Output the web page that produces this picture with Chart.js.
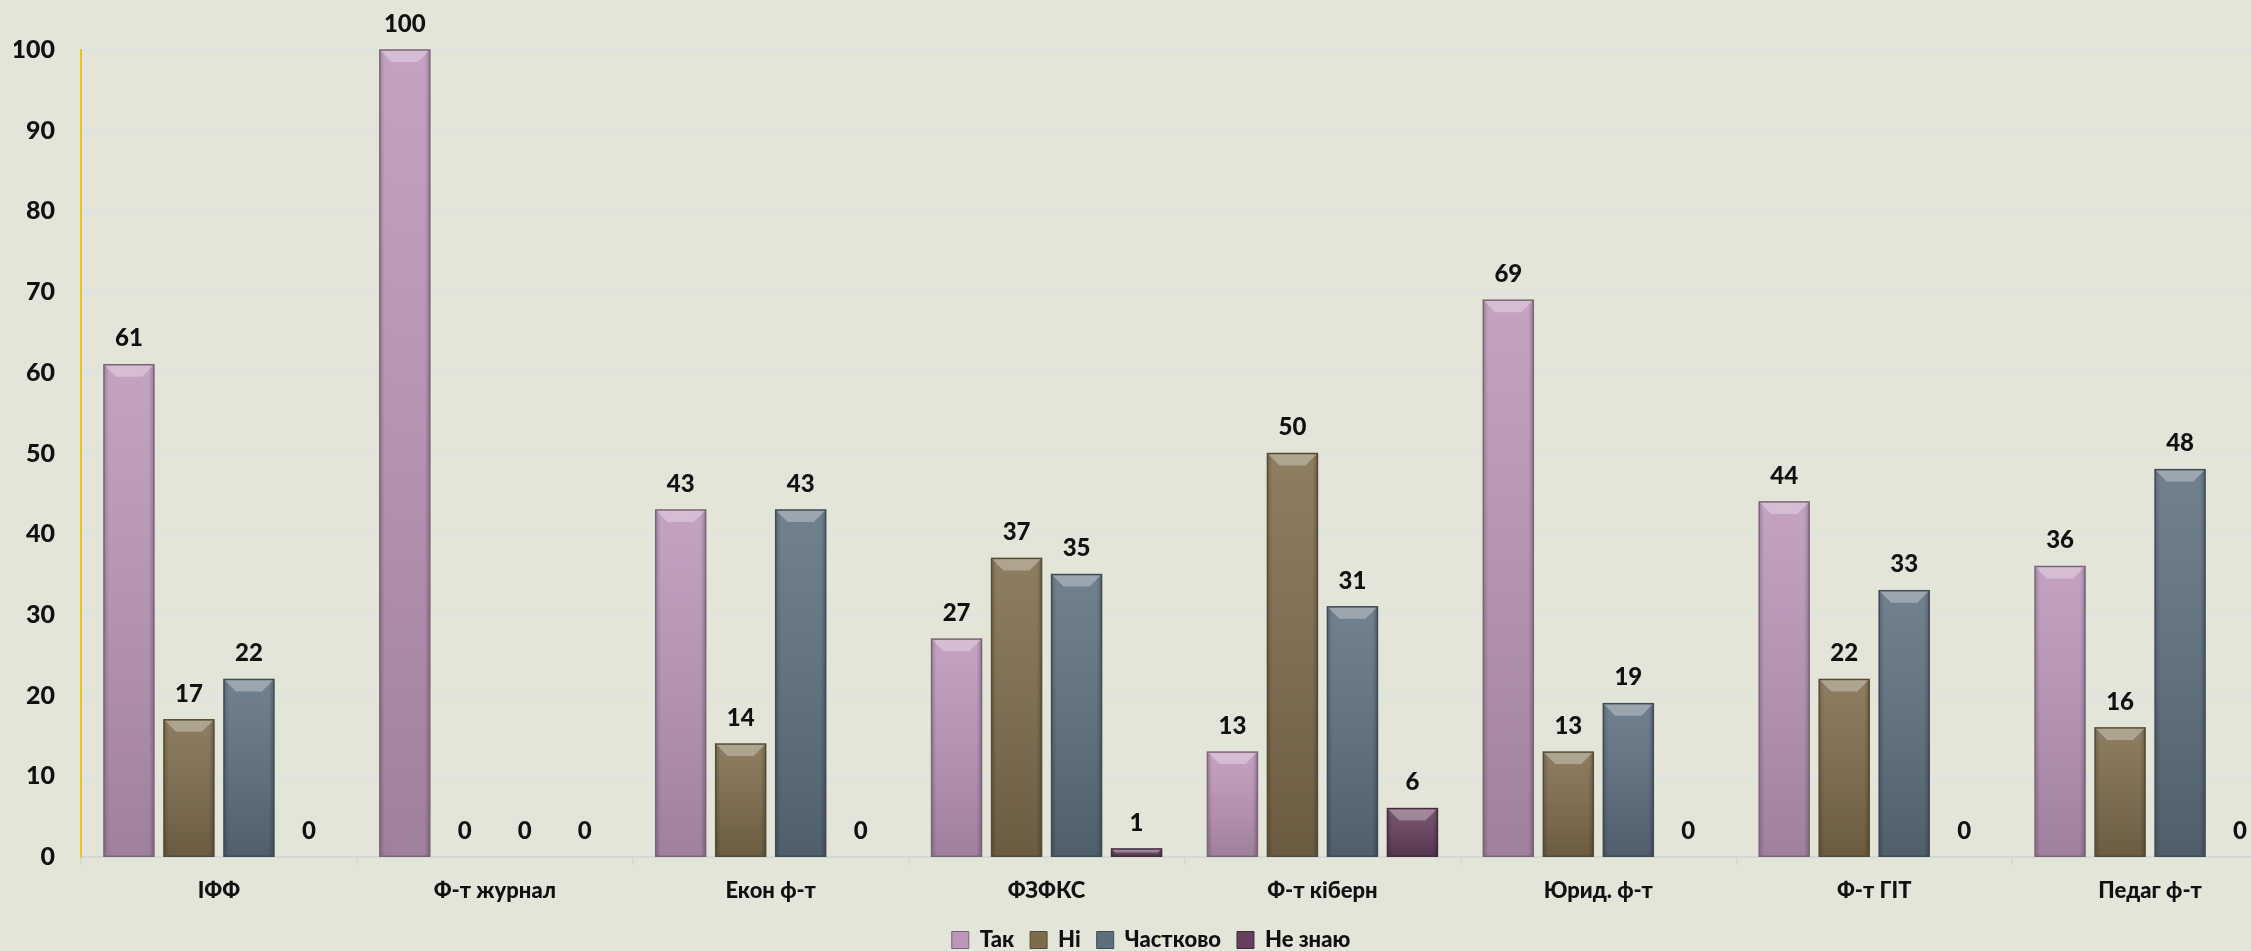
<!DOCTYPE html>
<html>
<head>
<meta charset="utf-8">
<script src="https://cdn.jsdelivr.net/npm/chart.js@4"></script>
<style>
  html, body { margin: 0; padding: 0; background: #e3e5d9; overflow: hidden; }
  .wrap { width: 2290px; height: 951px; }
</style>
</head>
<body>
<div class="wrap"><canvas id="myChart"></canvas></div>
<script>
const categories = ['ІФФ', 'Ф-т журнал', 'Екон ф-т', 'ФЗФКС', 'Ф-т кіберн', 'Юрид. ф-т', 'Ф-т ГІТ', 'Педаг ф-т'];
const seriesNames = ['Так', 'Ні', 'Частково', 'Не знаю'];
const takValues = [61, 100, 43, 27, 13, 69, 44, 36];
const niValues = [17, 0, 14, 37, 50, 13, 22, 16];
const chastkovoValues = [22, 0, 43, 35, 31, 19, 33, 48];
const neZnayuValues = [0, 0, 0, 1, 6, 0, 0, 0];
const yMin = 0, yMax = 100, yStep = 10;

const fills = ['#bb96b8', '#7d6c4c', '#5d6f7e', '#65405d'];
const borders = ['#7d6378', '#564a33', '#3e4b56', '#452a3f'];

document.addEventListener('DOMContentLoaded', () => {
    const chartCanvas = document.getElementById('myChart');
    const ctx = chartCanvas.getContext('2d');
    const FONT = "'Lato', 'Open Sans', sans-serif";

    // bevel + shading over each bar
    const bevelPlugin = {
        id: 'bevel',
        afterDatasetsDraw(chart) {
            const c = chart.ctx;
            chart.data.datasets.forEach((ds, di) => {
                const meta = chart.getDatasetMeta(di);
                meta.data.forEach((bar) => {
                    const p = bar.getProps(['x', 'y', 'base', 'width'], true);
                    const h = p.base - p.y;
                    if (h < 1) return;
                    const l = p.x - p.width / 2, r = p.x + p.width / 2;
                    c.save();
                    const g = c.createLinearGradient(0, p.y, 0, p.base);
                    g.addColorStop(0, 'rgba(255,255,255,0.12)');
                    g.addColorStop(1, 'rgba(0,0,0,0.15)');
                    c.fillStyle = g;
                    c.fillRect(l, p.y, p.width, h);
                    // side shading
                    const sg = c.createLinearGradient(l, 0, r, 0);
                    sg.addColorStop(0, 'rgba(0,0,0,0.18)');
                    sg.addColorStop(0.1, 'rgba(0,0,0,0)');
                    sg.addColorStop(0.9, 'rgba(0,0,0,0)');
                    sg.addColorStop(1, 'rgba(0,0,0,0.22)');
                    c.fillStyle = sg;
                    c.fillRect(l, p.y, p.width, h);
                    // top bevel
                    const bh = Math.min(12, h / 2);
                    c.beginPath();
                    c.moveTo(l, p.y);
                    c.lineTo(r, p.y);
                    c.lineTo(r - bh, p.y + bh);
                    c.lineTo(l + bh, p.y + bh);
                    c.closePath();
                    c.fillStyle = 'rgba(255,255,255,0.3)';
                    c.fill();
                    c.strokeStyle = borders[di];
                    c.lineWidth = 1.5;
                    c.strokeRect(l, p.y, p.width, h);
                    c.restore();
                });
            });
        }
    };

    // value labels above the bars
    const valueLabels = {
        id: 'valueLabels',
        afterDatasetsDraw(chart) {
            const c = chart.ctx;
            c.save();
            c.font = "900 24px " + FONT;
            c.fillStyle = '#111';
            c.textAlign = 'center';
            c.textBaseline = 'middle';
            chart.data.datasets.forEach((ds, di) => {
                const meta = chart.getDatasetMeta(di);
                meta.data.forEach((bar, i) => {
                    c.fillText(String(ds.data[i]), bar.x, bar.y - 26);
                });
            });
            c.restore();
        }
    };

    const seriesData = [takValues, niValues, chastkovoValues, neZnayuValues];
    const data = {
        labels: categories,
        datasets: seriesNames.map((name, i) => ({
            label: name,
            data: seriesData[i],
            backgroundColor: fills[i],
            borderWidth: 0,
            categoryPercentage: 0.87,
            barPercentage: 0.833
        }))
    };

    const config = {
        type: 'bar',
        data: data,
        options: {
            responsive: true,
            maintainAspectRatio: false,
            animation: false,
            layout: { padding: { left: 14, right: 2, top: 50, bottom: -10 } },
            scales: {
                x: {
                    afterFit: (s) => { s.height = 56; },
                    grid: {
                        drawOnChartArea: false,
                        color: '#d3d8d8',
                        tickLength: 8,
                        lineWidth: 1.5
                    },
                    border: { color: '#d3d8d8', width: 2 },
                    ticks: {
                        padding: 13,
                        color: '#111',
                        font: { family: FONT, size: 22, weight: '900' }
                    }
                },
                y: {
                    min: yMin,
                    max: yMax,
                    afterFit: (s) => { s.width = 67; },
                    ticks: {
                        stepSize: yStep,
                        padding: 26,
                        color: '#111',
                        font: { family: FONT, size: 25, weight: '900' }
                    },
                    grid: { drawTicks: false, color: '#dde3e6', lineWidth: 1.5 },
                    border: { color: '#e2c232', width: 2 }
                }
            },
            plugins: {
                tooltip: { enabled: false },
                legend: {
                    position: 'bottom',
                    labels: {
                        padding: 16,
                        boxWidth: 17,
                        boxHeight: 17,
                        color: '#111',
                        font: { family: FONT, size: 22, weight: '900' },
                        generateLabels: (chart) => chart.data.datasets.map((ds, i) => ({
                            text: ds.label,
                            fillStyle: fills[i],
                            strokeStyle: borders[i],
                            lineWidth: 1,
                            datasetIndex: i,
                            fontColor: '#111'
                        }))
                    }
                }
            }
        },
        plugins: [bevelPlugin, valueLabels]
    };
    new Chart(ctx, config);
});
</script>
</body>
</html>
